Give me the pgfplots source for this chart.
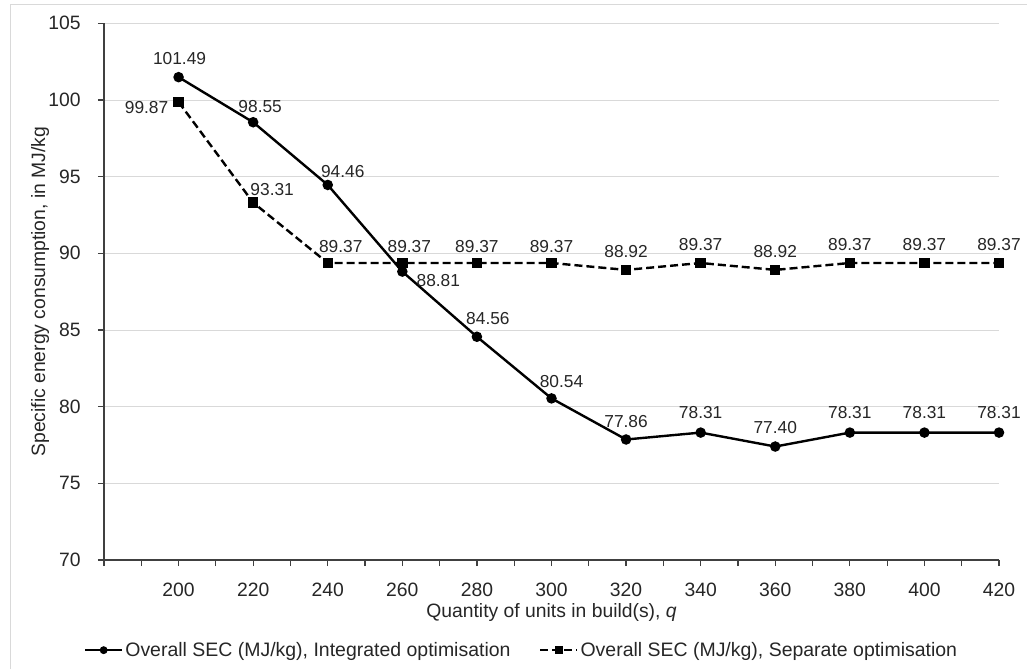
\documentclass[border=0pt]{standalone}
\usepackage{fontspec}
\setmainfont{Liberation Sans}
\usepackage{pgfplots}
\usepackage{pgfplotstable}
\pgfplotsset{compat=1.18}

\definecolor{gridgray}{HTML}{D9D9D9}
\definecolor{framegray}{HTML}{D9D9D9}
\definecolor{axisgray}{HTML}{404040}
\definecolor{textgray}{HTML}{262626}

% q, SEC value, offset of the value label's centre from its point (pt)
\pgfplotstableread{
q   sec    dx     dy
200 101.49 0.75   14.25
220 98.55  5.25   12
240 94.46  11.25  9.75
260 88.81  27     -6.75
280 84.56  8.25   13.5
300 80.54  7.5    12.75
320 77.86  0      13.5
340 78.31  0      15
360 77.40  0      14.25
380 78.31  0      15
400 78.31  0      15
420 78.31  0      15
}\integrated

\pgfplotstableread{
q   sec    dx     dy
200 99.87  -24    -4.5
220 93.31  14.25  9.75
240 89.37  9.75   12
260 89.37  5.25   12
280 89.37  0      12
300 89.37  0      12
320 88.92  0      13.5
340 89.37  0      13.5
360 88.92  0      13.5
380 89.37  0      13.5
400 89.37  0      13.5
420 89.37  0      13.5
}\separate

\pgfplotsset{
  integ line/.style={black, line width=1.8pt, mark=*, mark options={solid}},
  sep line/.style={black, line width=1.8pt, dash pattern=on 6pt off 3pt,
    mark=square*, mark options={solid}},
  value labels/.style={
    nodes near coords={\pgfmathprintnumber[fixed,fixed zerofill,precision=2,assume math mode=true]{\pgfplotspointmeta}},
    visualization depends on={\thisrow{dx} \as \labdx},
    visualization depends on={\thisrow{dy} \as \labdy},
    nodes near coords style={anchor=center, xshift=\labdx pt, yshift=\labdy pt},
  },
}

\begin{document}
\begin{tikzpicture}
\path[use as bounding box] (-78pt,-81.75pt) rectangle (692.25pt,420pt);
\draw[framegray, line width=0.75pt] (-69.75pt,-81.75pt) -- (-69.75pt,416.25pt) -- (692.25pt,416.25pt);
\begin{axis}[
  at={(0pt,0pt)}, anchor=south west,
  scale only axis, width=671.25pt, height=402.5pt,
  xmin=180, xmax=420, ymin=70, ymax=105,
  clip=false,
  axis x line*=bottom, axis y line*=left,
  axis line style={axisgray, line width=1.2pt},
  xtick={200,220,240,260,280,300,320,340,360,380,400,420},
  xticklabels={200,220,240,260,280,300,320,340,360,380,400,420},
  minor xtick={180,190,210,230,250,270,290,310,330,350,370,390,410},
  ytick={70,75,80,85,90,95,100,105},
  yticklabels={70,75,80,85,90,95,100,105},
  tick align=outside,
  major tick length=4.5pt, minor tick length=4.5pt,
  tick style={axisgray, line width=0.9pt},
  ymajorgrids, major grid style={gridgray, line width=0.75pt},
  tick label style={font=\fontsize{14.5}{17}\selectfont, text=textgray},
  yticklabel style={anchor=east, inner sep=0pt, xshift=-12.75pt},
  xticklabel style={anchor=base, inner sep=0pt, yshift=-22.5pt},
  xlabel={Quantity of units in build(s), \textit{q}},
  ylabel={Specific energy consumption, in MJ/kg},
  label style={font=\fontsize{14.5}{17}\selectfont, text=textgray},
  xlabel style={at={(axis description cs:0.5,-0.1062)}, anchor=base, inner sep=0pt},
  ylabel style={at={(axis description cs:-0.0715,0.5)}, anchor=center, rotate=0, inner sep=0pt},
  legend columns=2,
  legend cell align=left,
  legend style={at={(axis description cs:0.4665,-0.168)}, anchor=center,
    draw=none, fill=none, font=\fontsize{14.6}{17}\selectfont, text=textgray,
    nodes={inner sep=1.5pt}, /tikz/column 2/.style={column sep=20pt}},
  legend image code/.code={\draw[mark repeat=2, mark phase=2, #1, mark size=2pt]
    plot coordinates {(0pt,0pt) (13.875pt,0pt) (27.75pt,0pt)};},
  every node near coord/.append style={inner sep=0pt,
    font=\fontsize{13}{15}\selectfont, text=textgray},
]
\addplot[integ line, mark size=3pt, value labels, forget plot]
  table[x=q, y=sec] {\integrated};
\addplot[sep line, mark size=3pt, value labels, forget plot]
  table[x=q, y=sec] {\separate};

\addlegendimage{integ line}
\addlegendentry{Overall SEC (MJ/kg), Integrated optimisation}
\addlegendimage{sep line}
\addlegendentry{Overall SEC (MJ/kg), Separate optimisation}
\end{axis}
\end{tikzpicture}
\end{document}
